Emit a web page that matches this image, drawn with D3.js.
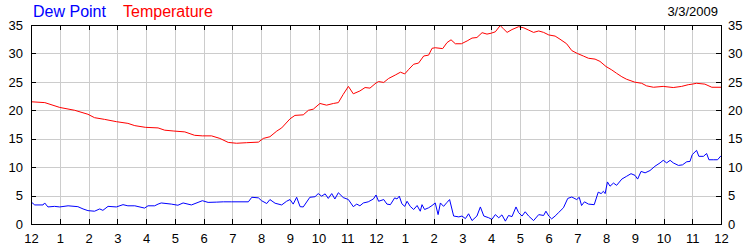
<!DOCTYPE html>
<html>
<head>
<meta charset="utf-8">
<script src="https://cdn.jsdelivr.net/npm/d3@7"></script>
<style>
  html, body { margin: 0; padding: 0; background: #fff; }
  svg { display: block; font-family: "Liberation Sans", Arial, sans-serif; }
</style>
</head>
<body>
<svg id="chart" width="750" height="250"></svg>
<script>
// ---- data (hours since midnight, values in degrees) ----
const hourLabels = ["12","1","2","3","4","5","6","7","8","9","10","11","12","1","2","3","4","5","6","7","8","9","10","11","12"];
const yTicks = [0, 5, 10, 15, 20, 25, 30, 35];
const dateLabel = "3/3/2009";
const seriesNames = ["Dew Point", "Temperature"];

const tempHours = [0,0.48,1.0,1.52,1.98,2.21,2.56,2.97,3.37,3.61,3.98,4.42,4.65,4.97,5.35,5.69,5.96,
  6.28,6.57,6.86,7.15,7.5,7.91,8.08,8.31,8.55,8.72,9.01,9.18,9.47,9.65,9.82,10.05,10.28,10.52,10.69,10.86,11.04,11.21,11.44,11.62,11.79,
  12.0,12.09,12.27,12.44,12.67,12.85,13.0,13.14,13.31,13.48,13.66,13.83,13.95,14.06,14.32,14.47,14.61,14.76,14.97,15.17,15.34,15.51,15.69,15.86,16.0,16.15,16.32,16.44,16.56,16.73,16.96,17.14,17.31,17.48,17.66,17.83,18.01,
  18.23,18.4,18.63,18.81,19.0,19.21,19.39,19.62,19.79,20.0,20.2,20.37,20.55,20.72,21.0,21.24,21.41,21.65,21.99,22.34,22.63,22.86,23.0,23.15,23.44,23.68,24.0];
const tempValues = [21.5,21.35,20.5,20.0,19.3,18.7,18.4,18.0,17.7,17.3,17.0,16.9,16.5,16.35,16.2,15.6,15.5,
  15.5,15.05,14.35,14.2,14.3,14.4,15.05,15.35,16.35,16.9,18.5,19.1,19.2,20.0,20.2,21.2,20.9,21.2,21.35,22.8,24.2,22.9,23.4,24.0,23.9,
  24.8,25.05,24.9,25.6,26.2,26.7,26.4,27.2,28.1,28.3,29.55,29.7,30.9,31.0,30.85,31.9,32.4,31.7,31.7,32.2,32.7,32.8,33.65,33.4,33.55,33.8,34.9,34.3,33.7,34.2,34.7,34.5,34.1,33.7,33.95,33.7,33.25,
  33.05,32.5,31.7,30.5,30.0,29.55,29.15,29.0,28.6,27.7,27.1,26.5,25.9,25.45,24.95,24.75,24.3,24.05,24.2,24.0,24.2,24.5,24.6,24.75,24.6,24.05,24.05];

const dewHours = [0,0.13,0.42,0.475,0.59,0.82,1.0,1.29,1.63,1.81,1.98,2.21,2.39,2.5,2.68,2.97,3.2,3.37,3.61,3.95,4.07,4.3,4.42,4.53,4.88,5.11,5.29,5.58,5.81,5.96,6.16,
  6.46,6.69,6.98,7.27,7.56,7.68,7.91,8.02,8.2,8.31,8.49,8.72,8.89,9.01,9.12,9.24,9.36,9.47,9.7,9.88,9.99,10.11,10.23,10.34,10.46,10.57,10.69,10.86,11.04,11.21,11.33,11.44,11.56,11.73,11.91,12.0,
  12.09,12.27,12.38,12.5,12.65,12.73,12.81,12.9,13.0,13.08,13.19,13.31,13.43,13.54,13.6,13.69,13.83,13.95,14.06,14.16,14.24,14.35,14.47,14.56,14.7,14.88,14.99,15.11,15.22,15.34,15.51,15.63,15.75,15.92,16.03,16.15,16.27,16.38,16.5,16.61,16.73,16.87,16.96,17.08,17.19,17.31,17.48,17.66,17.83,17.91,18.01,
  18.11,18.23,18.34,18.52,18.67,18.81,18.98,19.07,19.15,19.25,19.39,19.59,19.73,19.83,19.91,19.97,20.05,20.14,20.26,20.37,20.55,20.72,20.87,21.01,21.1,21.22,21.36,21.53,21.7,21.88,21.99,22.11,22.23,22.34,22.52,22.66,22.81,22.92,23.0,23.15,23.23,23.39,23.5,23.58,23.73,23.88,24.0];
const dewValues = [3.9,3.35,3.35,3.7,3.0,3.1,3.0,3.2,3.05,2.65,2.35,2.25,2.65,2.4,3.1,3.0,3.4,3.2,3.2,2.8,3.2,3.2,3.5,3.7,3.5,3.3,3.7,3.35,3.8,4.1,3.8,
  3.85,3.9,3.9,3.9,3.9,4.7,4.6,4.1,3.6,4.3,3.65,3.35,4.0,4.3,3.5,4.7,3.05,3.0,4.7,4.8,5.35,4.9,5.3,4.5,5.35,4.4,5.5,4.65,4.3,3.05,3.5,3.2,3.7,3.9,4.4,5.1,
  4.0,4.3,3.5,3.4,4.6,4.4,4.9,3.55,3.1,4.0,3.1,2.55,3.25,2.25,3.4,2.55,2.85,3.25,3.7,1.65,3.7,3.1,3.8,4.3,1.4,1.25,1.4,0.95,1.8,0.6,1.4,3.0,1.4,1.1,0.8,1.65,1.1,1.6,0.5,1.5,1.3,3.0,2.0,1.4,2.15,1.4,0.6,1.65,1.5,2.25,1.4,
  0.9,1.4,1.95,2.85,4.5,4.75,4.3,4.7,3.25,3.9,3.5,3.4,5.6,5.35,5.75,5.35,7.4,6.65,7.2,6.8,7.9,8.4,8.85,8.55,7.9,9.25,9.0,9.4,10.15,10.75,11.2,10.75,11.2,10.75,10.3,10.4,10.95,11.0,12.2,12.95,11.9,11.9,12.4,11.3,11.3,11.3,12.0];

// ---- layout ----
const plotLeft = 31, plotRight = 721, plotTop = 25, plotBottom = 224;
const W = plotRight - plotLeft, H = plotBottom - plotTop;
const FONT = '"Liberation Sans", Arial, sans-serif';

const svg = d3.select("#chart");
const x = d3.scaleLinear().domain([0, 24]).range([plotLeft, plotRight]);
const y = d3.scaleLinear().domain([0, 35]).range([plotBottom, plotTop]);
const hourTicks = d3.range(0, 25);

// grid
const grid = svg.append("g").attr("class", "grid");
grid.append("g").attr("transform", `translate(0,${plotBottom})`)
  .call(d3.axisBottom(x).tickValues(hourTicks).tickSize(-H).tickFormat(""))
  .call(g => g.select(".domain").remove());
grid.append("g").attr("transform", `translate(${plotLeft},0)`)
  .call(d3.axisLeft(y).tickValues(yTicks).tickSize(-W).tickFormat(""))
  .call(g => g.select(".domain").remove());
grid.selectAll("line").attr("stroke", "#cccccc").attr("stroke-width", 1).attr("shape-rendering", "crispEdges");

// lines
const tempData = tempHours.map((h, i) => [h, tempValues[i]]);
const dewData = dewHours.map((h, i) => [h, dewValues[i]]);
const line = d3.line().x(d => x(d[0])).y(d => y(d[1]));
svg.append("path").datum(dewData).attr("d", line)
  .attr("fill", "none").attr("stroke", "#0000ff").attr("stroke-width", 1);
svg.append("path").datum(tempData).attr("d", line)
  .attr("fill", "none").attr("stroke", "#ff0000").attr("stroke-width", 1);

// frame
svg.append("rect").attr("x", plotLeft).attr("y", plotTop).attr("width", W).attr("height", H)
  .attr("fill", "none").attr("stroke", "#000").attr("stroke-width", 1).attr("shape-rendering", "crispEdges");

// axes with inward ticks
function styleAxis(g) {
  g.select(".domain").remove();
  g.selectAll("line").attr("stroke", "#000").attr("shape-rendering", "crispEdges");
  g.selectAll("text").attr("fill", "#000").style("font-family", FONT).style("font-size", "13px");
}
svg.append("g").attr("transform", `translate(0,${plotBottom})`)
  .call(d3.axisBottom(x).tickValues(hourTicks).tickSizeInner(-5).tickSizeOuter(0).tickPadding(10)
    .tickFormat((d, i) => hourLabels[i]))
  .call(styleAxis);
svg.append("g").attr("transform", `translate(0,${plotTop})`)
  .call(d3.axisTop(x).tickValues(hourTicks).tickSizeInner(-5).tickSizeOuter(0).tickFormat(""))
  .call(styleAxis);
svg.append("g").attr("transform", `translate(${plotLeft},0)`)
  .call(d3.axisLeft(y).tickValues(yTicks).tickSizeInner(-5).tickSizeOuter(0).tickPadding(8))
  .call(styleAxis);
svg.append("g").attr("transform", `translate(${plotRight},0)`)
  .call(d3.axisRight(y).tickValues(yTicks).tickSizeInner(-5).tickSizeOuter(0).tickPadding(7))
  .call(styleAxis);

// legend
svg.append("text").attr("x", 33).attr("y", 17).attr("fill", "#0000ff")
  .style("font-family", FONT).style("font-size", "16px").text(seriesNames[0]);
svg.append("text").attr("x", 123).attr("y", 17).attr("fill", "#ff0000")
  .style("font-family", FONT).style("font-size", "16px").text(seriesNames[1]);

// date
svg.append("text").attr("x", 718).attr("y", 16).attr("text-anchor", "end").attr("fill", "#000")
  .style("font-family", FONT).style("font-size", "13px").text(dateLabel);
</script>
</body>
</html>
